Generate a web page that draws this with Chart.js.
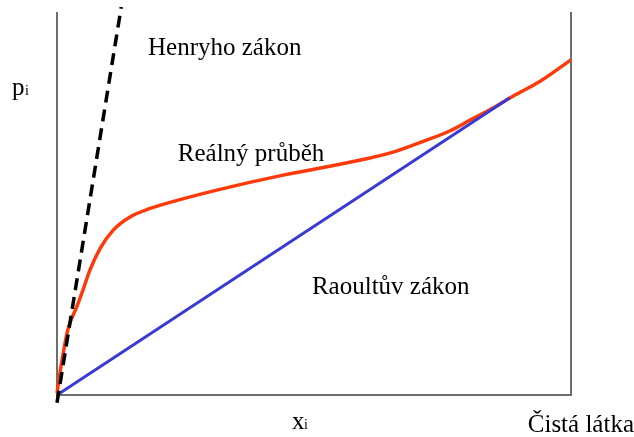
<!DOCTYPE html>
<html>
<head>
<meta charset="utf-8">
<script src="https://cdn.jsdelivr.net/npm/chart.js@4"></script>
<style>
  body { margin: 0; background: #fff; }
  #wrap { width: 634px; height: 437px; }
</style>
</head>
<body>
<div id="wrap"><canvas id="chart"></canvas></div>
<script>
// mole fraction (0..1) vs partial pressure (0..1 of plot height)
const realX = [0, 0.006, 0.021, 0.039, 0.051, 0.064, 0.084, 0.109, 0.142, 0.181, 0.220, 0.311, 0.440, 0.545, 0.609, 0.654, 0.720, 0.765, 0.804, 0.848, 0.887, 0.940, 1.0]
const realY = [0.005, 0.060, 0.170, 0.232, 0.276, 0.326, 0.383, 0.430, 0.465, 0.487, 0.503, 0.535, 0.574, 0.601, 0.619, 0.634, 0.666, 0.690, 0.718, 0.749, 0.780, 0.819, 0.875]
const raoultX = [0, 0.881]
const raoultY = [0, 0.776]
const henryX = [0, 0.125]
const henryY = [-0.02, 1.013]

const labels = [
  { text: 'Henryho zákon', x: 0.177, y: 0.889 },
  { text: 'Reálný průběh', x: 0.235, y: 0.611 },
  { text: 'Raoultův zákon', x: 0.496, y: 0.264 }
]

const toPoints = (xs, ys) => xs.map((x, i) => ({ x: x, y: ys[i] }))

const frame = {
  id: 'frame',
  beforeDatasetsDraw(chart) {
    const { ctx, chartArea: a } = chart
    ctx.save()
    ctx.strokeStyle = '#6e6e6e'
    ctx.lineWidth = 2
    ctx.beginPath()
    ctx.moveTo(a.left, a.top)
    ctx.lineTo(a.left, a.bottom)
    ctx.lineTo(a.right, a.bottom)
    ctx.lineTo(a.right, a.top)
    ctx.stroke()
    ctx.restore()
  },
  afterDatasetsDraw(chart) {
    const { ctx, scales } = chart
    ctx.save()
    ctx.fillStyle = '#000'
    ctx.textBaseline = 'alphabetic'
    ctx.font = '25px "Liberation Serif", serif'
    labels.forEach(l => {
      ctx.fillText(l.text, scales.x.getPixelForValue(l.x), scales.y.getPixelForValue(l.y))
    })
    // axis names
    ctx.fillText('p', 12, 95)
    ctx.fillText('x', 292, 429)
    ctx.font = '14px "Liberation Serif", serif'
    ctx.fillText('i', 25, 95)
    ctx.fillText('i', 304, 429)
    ctx.font = '25px "Liberation Serif", serif'
    ctx.textAlign = 'right'
    ctx.fillText('Čistá látka', 634, 432)
    ctx.restore()
  }
}

new Chart(document.getElementById('chart'), {
  type: 'scatter',
  data: {
    datasets: [
      {
        label: 'Henryho zákon',
        data: toPoints(henryX, henryY),
        showLine: true,
        borderColor: '#000',
        borderWidth: 3.5,
        borderDash: [12, 7],
        pointRadius: 0,
        clip: false
      },
      {
        label: 'Raoultův zákon',
        data: toPoints(raoultX, raoultY),
        showLine: true,
        borderColor: '#3a3ad2',
        borderWidth: 3,
        pointRadius: 0
      },
      {
        label: 'Reálný průběh',
        data: toPoints(realX, realY),
        showLine: true,
        borderColor: '#ff3a0a',
        borderWidth: 3.5,
        cubicInterpolationMode: 'monotone',
        pointRadius: 0,
        clip: false
      }
    ]
  },
  options: {
    responsive: true,
    maintainAspectRatio: false,
    animation: false,
    layout: { padding: { left: 57, right: 63, top: 12, bottom: 42 } },
    plugins: { legend: { display: false }, tooltip: { enabled: false } },
    scales: {
      x: { type: 'linear', min: 0, max: 1, display: false },
      y: { type: 'linear', min: 0, max: 1, display: false }
    }
  },
  plugins: [frame]
})
</script>
</body>
</html>
